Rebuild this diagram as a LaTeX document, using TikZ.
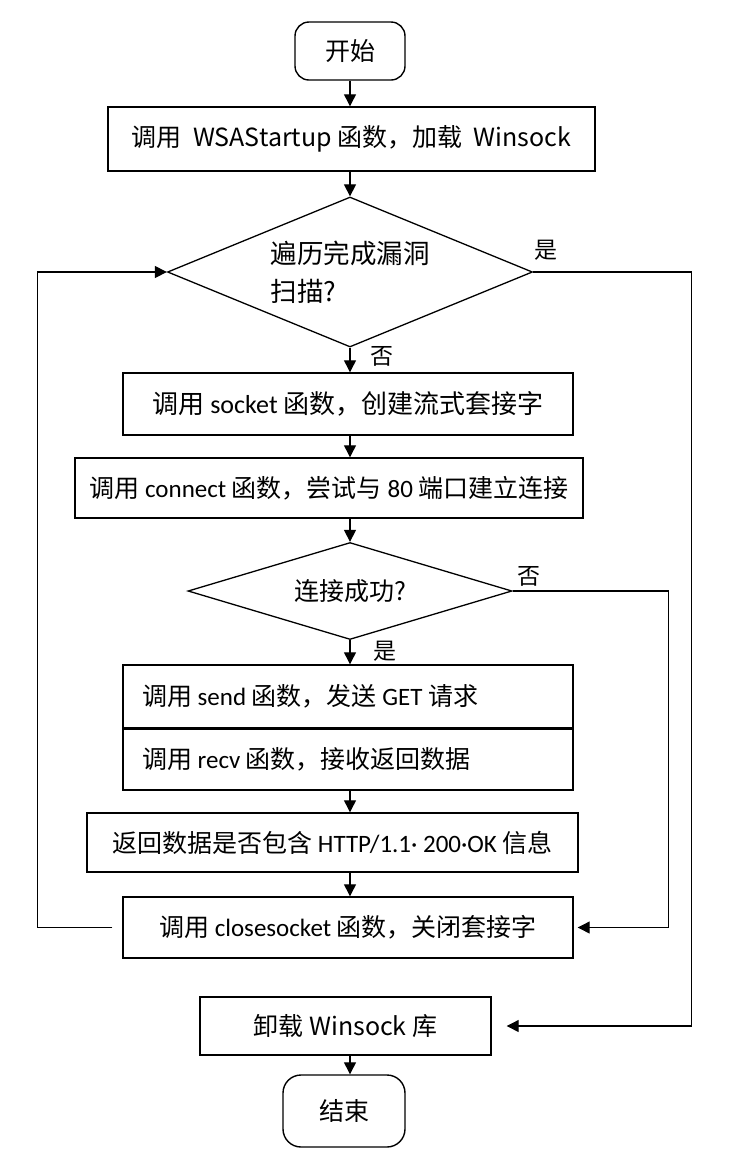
\documentclass[tikz,border=0pt]{standalone}
\usepackage{fontspec}
\setmainfont{Noto Sans CJK SC}
\newfontfamily\lat{Carlito}
\usetikzlibrary{arrows.meta, positioning, shapes.geometric}
\tikzset{
  >={Triangle[length=12pt,width=12pt]},
  font=\fontsize{25}{34}\selectfont,
  proc/.style={
    draw, line width=1.4pt, inner sep=0pt,
    minimum height=61pt
  },
  procleft/.style={
    proc, text width=412pt, align=left,
    execute at begin node={\spaceskip=0pt\xspaceskip=0pt}
  },
  term/.style={proc, rounded corners=14pt},
  decision/.style={
    draw, diamond, line width=1.3pt, inner sep=0pt
  },
  arr/.style={->, line width=1.2pt},
  lab/.style={font=\fontsize{23}{28}\selectfont}
}

\begin{document}
\begin{tikzpicture}[x=1pt,y=-1pt]
  \useasboundingbox (0,0) rectangle (730,1160);
  % steps
  \node[term, minimum width=110pt, minimum height=58pt] (start) at (350,51) {开始};
  \node[proc, minimum width=487pt, minimum height=64pt] (wsa) at (351.5,139)
    {调用\ \ WSAStartup\ 函数，加载\ \ Winsock};
  \node[decision, aspect=2.4, minimum width=365pt, minimum height=150pt,
        align=left, font=\fontsize{26.5}{38}\selectfont] (scan) at (350,272)
    {遍历完成漏洞\\扫描?};
  \node[proc, minimum width=450pt, minimum height=62pt, font=\fontsize{26}{34}\selectfont] (sock) at (348,404)
    {调用{\lat\ socket\ }函数，创建流式套接字};
  \node[proc, minimum width=508pt, minimum height=60pt] (conn) at (329,488)
    {调用{\lat\ connect\ }函数，尝试与{\lat\ 80\ }端口建立连接};
  \node[decision, aspect=3.3, minimum width=324pt, minimum height=97pt] (ok) at (350,591)
    {连接成功?};
  \node[procleft, minimum width=450pt, minimum height=63pt] (send) at (348,696.5)
    {调用{\lat\ send\ }函数，发送{\lat\ GET\ }请求};
  \node[procleft, minimum width=450pt, minimum height=62pt] (recv) at (348,759)
    {调用{\lat\ recv\ }函数，接收返回数据};
  \node[proc, minimum width=491pt, minimum height=59pt] (http) at (332.5,842.5)
    {返回数据是否包含{\lat\ HTTP/1.1· 200·OK\ }信息};
  \node[proc, minimum width=450pt, minimum height=61pt] (close) at (348,927.5)
    {调用{\lat\ closesocket\ }函数，关闭套接字};
  \node[proc, minimum width=291pt, minimum height=58pt] (unload) at (345.5,1026)
    {卸载 Winsock 库};
  \node[term, minimum width=122pt, minimum height=72pt, rounded corners=18pt] (stop) at (344,1111) {结束};
  \draw[line width=2.6pt] (send.south west) -- (send.south east);

  % branch labels
  \node[lab] (yes1) at (546,250) {是};
  \node[lab] (no1) at (382,356) {否};
  \node[lab] (no2) at (529,576) {否};
  \node[lab] (yes2) at (385,651) {是};

  % main flow
  \draw[arr] (start.south) -- (start.south |- wsa.north);
  \draw[arr] (wsa.south -| scan.north) -- (scan.north);
  \draw[arr] (scan.south) -- (scan.south |- sock.north);
  \draw[arr] (sock.south -| scan.north) -- (scan.north |- conn.north);
  \draw[arr] (conn.south -| ok.north) -- (ok.north);
  \draw[arr] (ok.south) -- (ok.south |- send.north);
  \draw[arr] (recv.south -| ok.south) -- (ok.south |- http.north);
  \draw[arr] (http.south -| ok.south) -- (ok.south |- close.north);
  \draw[arr] (unload.south -| ok.south) -- (ok.south |- stop.north);

  % loops
  \draw[arr, shorten <=10pt] (close.west) -- ++(-85,0) |- (scan.west);
  \draw[arr, shorten >=15pt] (scan.east) -- ++(158,0) |- (unload.east);
  \draw[arr, shorten >=4pt] (ok.east) -- ++(156,0) |- (close.east);
\end{tikzpicture}
\end{document}
